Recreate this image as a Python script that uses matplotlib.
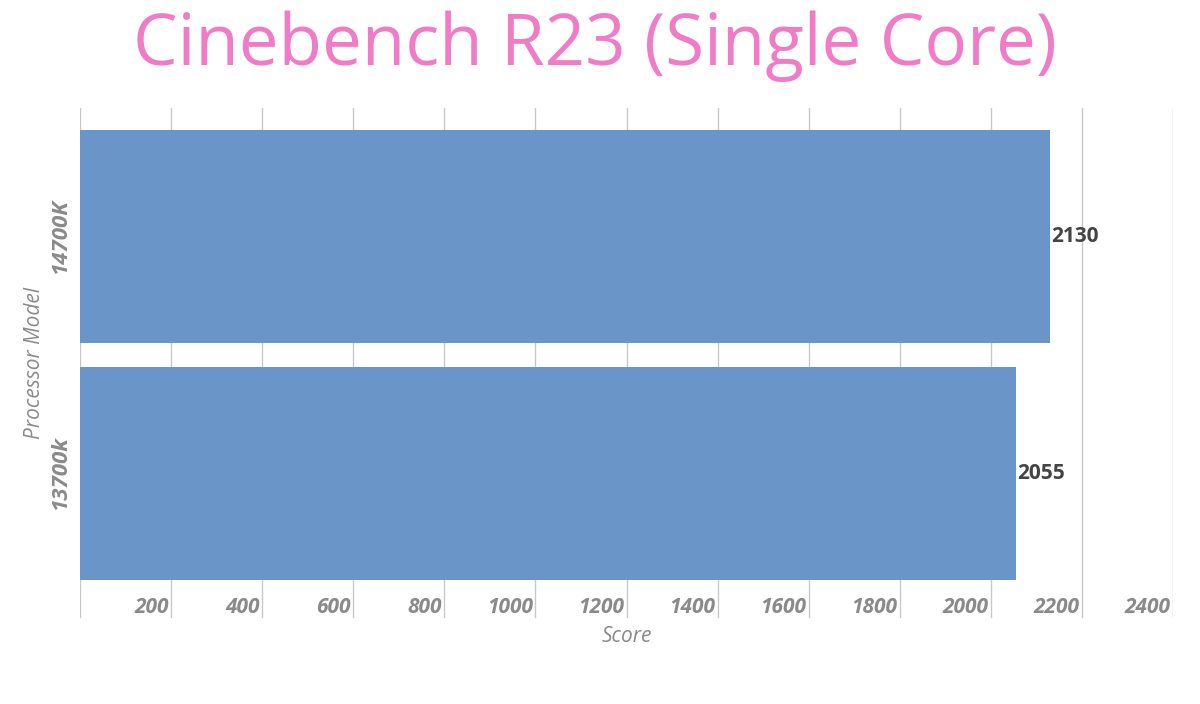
import matplotlib
matplotlib.use("Agg")
import matplotlib.pyplot as plt
import matplotlib.transforms as mtransforms

processors = ["13700k", "14700K"]
scores = [2055, 2130]
x_ticks = [200, 400, 600, 800, 1000, 1200, 1400, 1600, 1800, 2000, 2200, 2400]

plt.rcParams['font.family'] = ['Open Sans', 'DejaVu Sans']

fig = plt.figure(figsize=(12, 7.04), dpi=100)
ax = fig.add_axes([0.0667, 0.1222, 0.9108, 0.7244])

ypos = list(range(len(processors)))
ax.barh(ypos, scores, height=0.9, color="#6a95c8", zorder=2)
ax.set_xlim(0, 2400)
ax.set_ylim(-0.61, 1.542)

ax.set_xticks(x_ticks)
ax.set_xticklabels([])
ax.tick_params(length=0)
ax.set_yticks([])
ax.grid(axis="x", color="#c8c8c8", lw=1, zorder=0)
for s in ax.spines.values():
    s.set_visible(False)
ax.axvline(0, color="#c8c8c8", lw=1, zorder=0)

trans = mtransforms.blended_transform_factory(ax.transData, ax.transAxes)
for t in x_ticks:
    ax.text(t - 5, 0.0, str(t), transform=trans, ha="right", va="bottom",
            fontsize=15, fontstyle="italic", fontweight="bold", color="#8a8a8a")

for y, v in zip(ypos, scores):
    ax.text(v + 3, y, str(v), ha="left", va="center", fontsize=15,
            fontweight="bold", color="#444444", zorder=3)

for y, name in zip(ypos, processors):
    ax.text(-0.008, y, name, transform=mtransforms.blended_transform_factory(ax.transAxes, ax.transData),
            rotation=90, ha="right", va="center", fontsize=16, fontstyle="italic",
            fontweight="bold", color="#8a8a8a")

fig.text(0.029, 0.485, "Processor Model", rotation=90, ha="center", va="center",
         fontsize=15, fontstyle="italic", color="#8a8a8a")
fig.text(0.522, 0.096, "Score", ha="center", va="center",
         fontsize=15, fontstyle="italic", color="#8a8a8a")
fig.text(0.496, 0.935, "Cinebench R23 (Single Core)", ha="center", va="center",
         fontsize=51, color="#f07cc8")

fig.savefig("out.png", dpi=100, facecolor="white")
